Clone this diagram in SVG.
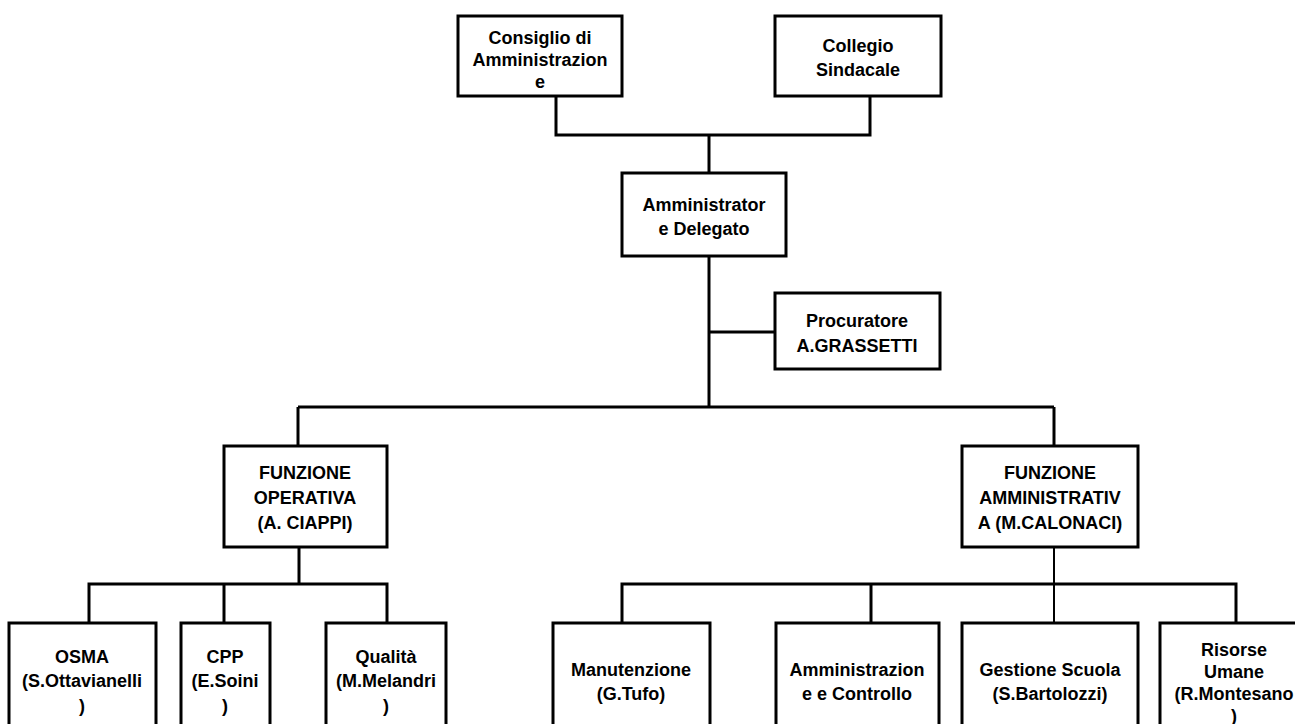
<svg xmlns="http://www.w3.org/2000/svg" width="1295" height="724" viewBox="0 0 1295 724">
  <style>
    .box { fill: #ffffff; stroke: #000000; stroke-width: 3; }
    .conn { fill: none; stroke: #000000; stroke-width: 3; }
    .thin { fill: none; stroke: #000000; stroke-width: 2; }
    text { font-family: "Liberation Sans", Arial, sans-serif; font-weight: bold; font-size: 18px; fill: #000000; text-anchor: middle; }
  </style>
  <rect width="1295" height="724" fill="#ffffff"/>
  <g id="connectors">
    <path class="conn" d="M556 96 V135 H870 V96"/>
    <path class="conn" d="M709 135 V173"/>
    <path class="conn" d="M709 256 V407"/>
    <path class="conn" d="M709 332 H775"/>
    <path class="conn" d="M298 407 H1054"/>
    <path class="conn" d="M298 407 V446"/>
    <path class="conn" d="M1054 407 V446"/>
    <path class="conn" d="M299 547 V584"/>
    <path class="conn" d="M89 623 V584 H387 V623"/>
    <path class="conn" d="M224 584 V623"/>
    <path class="conn" d="M622 623 V584 H1236 V623"/>
    <path class="conn" d="M871 584 V623"/>
    <path class="thin" d="M1054 547 V623"/>
  </g>
  <g id="consiglio">
    <rect class="box" x="458" y="16" width="164" height="80"/>
    <text x="540" y="44">Consiglio di</text>
    <text x="540" y="66">Amministrazion</text>
    <text x="540" y="88">e</text>
  </g>
  <g id="collegio">
    <rect class="box" x="775" y="16" width="166" height="80"/>
    <text x="858" y="52">Collegio</text>
    <text x="858" y="76">Sindacale</text>
  </g>
  <g id="amministratore">
    <rect class="box" x="622" y="173" width="164" height="83"/>
    <text x="704" y="211">Amministrator</text>
    <text x="704" y="235">e Delegato</text>
  </g>
  <g id="procuratore">
    <rect class="box" x="775" y="293" width="165" height="76"/>
    <text x="857" y="327">Procuratore</text>
    <text x="857" y="352">A.GRASSETTI</text>
  </g>
  <g id="funzione-operativa">
    <rect class="box" x="224" y="446" width="163" height="101"/>
    <text x="305" y="479">FUNZIONE</text>
    <text x="305" y="504">OPERATIVA</text>
    <text x="305" y="529">(A. CIAPPI)</text>
  </g>
  <g id="funzione-amministrativa">
    <rect class="box" x="962" y="446" width="176" height="101"/>
    <text x="1050" y="479">FUNZIONE</text>
    <text x="1050" y="504">AMMINISTRATIV</text>
    <text x="1050" y="529">A (M.CALONACI)</text>
  </g>
  <g id="osma">
    <rect class="box" x="9" y="623" width="147" height="120"/>
    <text x="82" y="663">OSMA</text>
    <text x="82" y="687">(S.Ottavianelli</text>
    <text x="82" y="712">)</text>
  </g>
  <g id="cpp">
    <rect class="box" x="181" y="623" width="89" height="120"/>
    <text x="225" y="663">CPP</text>
    <text x="225" y="687">(E.Soini</text>
    <text x="225" y="712">)</text>
  </g>
  <g id="qualita">
    <rect class="box" x="326" y="623" width="120" height="120"/>
    <text x="386" y="663">Qualità</text>
    <text x="386" y="687">(M.Melandri</text>
    <text x="386" y="712">)</text>
  </g>
  <g id="manutenzione">
    <rect class="box" x="553" y="623" width="157" height="120"/>
    <text x="631" y="676">Manutenzione</text>
    <text x="631" y="700">(G.Tufo)</text>
  </g>
  <g id="amministrazione-controllo">
    <rect class="box" x="776" y="623" width="163" height="120"/>
    <text x="857" y="676">Amministrazion</text>
    <text x="857" y="700">e e Controllo</text>
  </g>
  <g id="gestione-scuola">
    <rect class="box" x="962" y="623" width="176" height="120"/>
    <text x="1050" y="676">Gestione Scuola</text>
    <text x="1050" y="700">(S.Bartolozzi)</text>
  </g>
  <g id="risorse-umane">
    <rect class="box" x="1160" y="623" width="152" height="120"/>
    <text x="1234" y="656">Risorse</text>
    <text x="1234" y="678">Umane</text>
    <text x="1234" y="700">(R.Montesano</text>
    <text x="1234" y="722">)</text>
  </g>
</svg>
